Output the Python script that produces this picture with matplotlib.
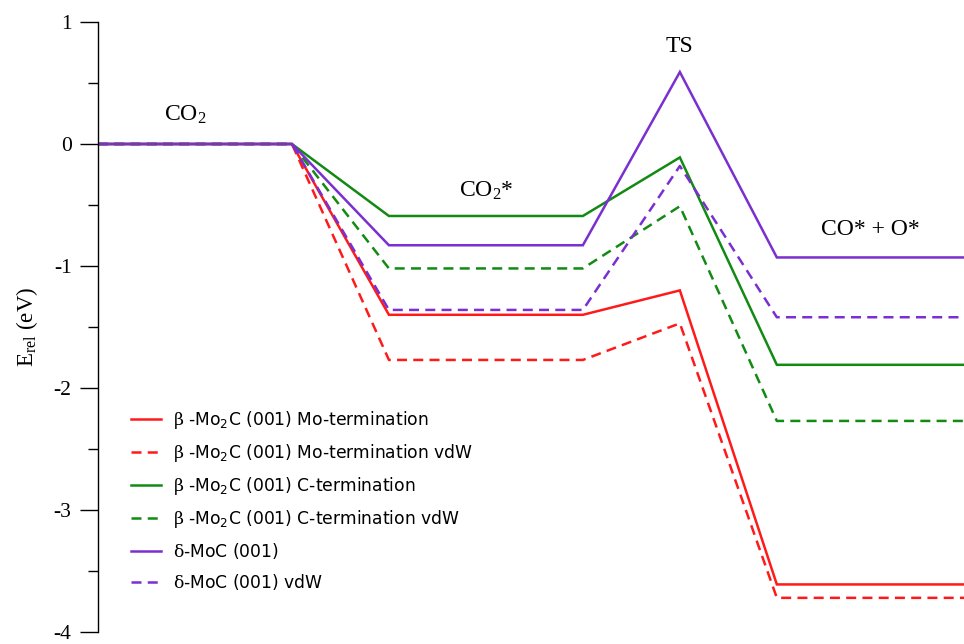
import matplotlib
matplotlib.use("Agg")
import matplotlib.pyplot as plt
from matplotlib.ticker import FixedLocator, MultipleLocator, FuncFormatter

plt.rcParams['mathtext.fontset'] = 'custom'
plt.rcParams['mathtext.rm'] = 'DejaVu Serif'
plt.rcParams['mathtext.it'] = 'DejaVu Serif:italic'

# reaction coordinate: CO2 plateau, CO2* plateau, TS peak, CO*+O* plateau
x_path = [0, 2, 3, 5, 6, 7, 9]

# energies (eV) of the states: CO2, CO2*, TS, CO*+O*
mo_term = [0.0, -1.40, -1.20, -3.61]
mo_term_vdw = [0.0, -1.77, -1.47, -3.72]
c_term = [0.0, -0.59, -0.11, -1.81]
c_term_vdw = [0.0, -1.02, -0.51, -2.27]
delta_moc = [0.0, -0.83, 0.59, -0.93]
delta_moc_vdw = [0.0, -1.36, -0.18, -1.42]

y_ticks = [-4, -3, -2, -1, 0, 1]

labels = [
    r"$\mathrm{\beta}$ -Mo$\mathregular{_2}$C (001) Mo-termination",
    r"$\mathrm{\beta}$ -Mo$\mathregular{_2}$C (001) Mo-termination vdW",
    r"$\mathrm{\beta}$ -Mo$\mathregular{_2}$C (001) C-termination",
    r"$\mathrm{\beta}$ -Mo$\mathregular{_2}$C (001) C-termination vdW",
    r"$\mathrm{\delta}$-MoC (001)",
    r"$\mathrm{\delta}$-MoC (001) vdW",
]

state_names = [r"CO$\mathregular{_2}$", r"CO$\mathregular{_2}$*", "TS", "CO* + O*"]


def path(e):
    # expand state energies into plateau/peak polyline
    return [e[0], e[0], e[1], e[1], e[2], e[3], e[3]]


red = "#ff1a1a"
green = "#138a13"
purple = "#7a2fd0"
dash = (0, (4, 2.5))

fig = plt.figure(figsize=(9.64, 6.44), dpi=100)
ax = fig.add_axes([98 / 964, 12 / 644, 1 - 98 / 964, 610 / 644])

series = [
    (mo_term, red, '-'),
    (mo_term_vdw, red, dash),
    (c_term, green, '-'),
    (c_term_vdw, green, dash),
    (delta_moc, purple, '-'),
    (delta_moc_vdw, purple, dash),
]
for (e, c, ls), lab in zip(series, labels):
    ax.plot(x_path, path(e), color=c, linestyle=ls, lw=1.8, label=lab,
            solid_joinstyle='miter')

ax.set_xlim(0, 8.93)
ax.set_ylim(-4, 1)

for side in ("top", "right", "bottom"):
    ax.spines[side].set_visible(False)
ax.spines["left"].set_linewidth(1.0)
ax.set_xticks([])
ax.yaxis.set_major_locator(FixedLocator(y_ticks))
ax.yaxis.set_minor_locator(MultipleLocator(0.5))
ax.yaxis.set_major_formatter(FuncFormatter(lambda v, p: "%d" % round(v)))
ax.tick_params(axis='y', which='major', direction='out', length=13, width=1,
               pad=6, labelsize=15.5, labelfontfamily='Liberation Serif')
ax.tick_params(axis='y', which='minor', direction='out', length=7, width=1)

ax.set_ylabel(r"E$\mathregular{_{rel}}$ (eV)", family='Liberation Serif',
              fontsize=16.5, labelpad=10)

label_pos = [(0.9, 0.24), (4.0, -0.38), (6.0, 0.80), (7.96, -0.70)]
for name, (xp, yp) in zip(state_names, label_pos):
    ax.text(xp, yp, name, ha='center', va='center', fontsize=17,
            family='Liberation Serif')

leg = ax.legend(loc='upper left', bbox_to_anchor=(0.02, 0.39), frameon=False,
                prop={'family': 'DejaVu Sans', 'size': 12.3},
                handlelength=1.8, handletextpad=0.7, labelspacing=0.64,
                borderaxespad=0.5)

fig.savefig("out.png", dpi=100, facecolor='white')
